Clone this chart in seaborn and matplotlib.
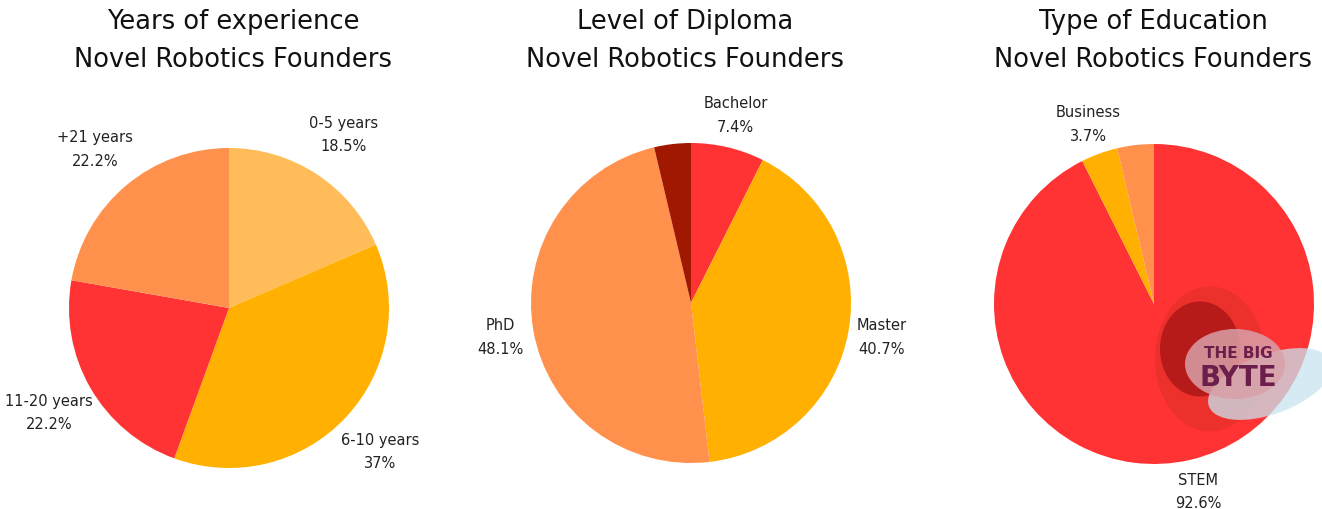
import matplotlib
matplotlib.use("Agg")
import matplotlib.pyplot as plt
import seaborn as sns
from matplotlib.patches import Ellipse

sns.set_theme(style="white")
plt.rcParams['font.family'] = ['DejaVu Sans']

# data: share of 27 founders
exp_labels = ["0-5 years", "6-10 years", "11-20 years", "+21 years"]
exp_values = [18.5, 37.0, 22.2, 22.2]
exp_colors = ["#FFBC58", "#FFB000", "#FF3333", "#FF914D"]

dipl_labels = ["Bachelor", "Master", "PhD", ""]
dipl_values = [7.4, 40.7, 48.1, 3.7]
dipl_colors = ["#FF3333", "#FFB000", "#FF914D", "#A01800"]

edu_labels = ["STEM", "Business", ""]
edu_values = [92.6, 3.7, 3.7]
edu_colors = ["#FF3333", "#FFB000", "#FF914D"]

titles = ["Years of experience", "Level of Diploma", "Type of Education"]
subtitle = "Novel Robotics Founders"


def fmt(v):
    return f"{v:g}%"


fig = plt.figure(figsize=(13.22, 5.10), dpi=100)

specs = [
    (exp_labels, exp_values, exp_colors, 1.3, (69, 149), 233),
    (dipl_labels, dipl_values, dipl_colors, 1.21, (531, 144), 685),
    (edu_labels, edu_values, edu_colors, 1.2, (994, 145), 1153),
]

W, H = 1322, 510
for i, (labels, values, colors, ld, (x0, y0), tx) in enumerate(specs):
    ax = fig.add_axes([x0 / W, 1 - (y0 + 320) / H, 320 / W, 320 / H])
    text_labels = [f"{l}\n{fmt(v)}" if l else "" for l, v in zip(labels, values)]
    wedges, texts = ax.pie(values, labels=text_labels, colors=colors, startangle=90,
                           counterclock=False, labeldistance=ld,
                           wedgeprops=dict(linewidth=0),
                           textprops=dict(fontsize=10.5, color="#222222"))
    for t in texts:
        t.set_ha("center")
        t.set_va("center")
        t.set_multialignment("center")
        t.set_linespacing(1.7)
    ax.set_xlim(-1, 1)
    ax.set_ylim(-1, 1)
    ax.set_aspect("equal")
    fig.text(tx / W, 1 - 22 / H, titles[i], ha="center", va="center", fontsize=18.5, color="#111111")
    fig.text(tx / W, 1 - 60 / H, subtitle, ha="center", va="center", fontsize=18.5, color="#111111")

# watermark logo (approximation)
wax = fig.add_axes([1150 / W, 1 - 440 / H, 172 / W, 160 / H])
wax.set_xlim(0, 172)
wax.set_ylim(0, 160)
wax.axis("off")
wax.add_patch(Ellipse((60, 80), 110, 145, color="#E8302A", alpha=0.8, lw=0))
wax.add_patch(Ellipse((50, 90), 80, 95, color="#B01818", alpha=0.9, lw=0))
wax.add_patch(Ellipse((120, 55), 130, 60, angle=20, color="#C9E4F0", alpha=0.75, lw=0))
wax.add_patch(Ellipse((85, 75), 100, 70, color="#D9A0A8", alpha=0.85, lw=0))
wax.text(88, 86, "THE BIG", ha="center", va="center", fontsize=11, fontweight="bold", color="#6B1E4B")
wax.text(88, 62, "BYTE", ha="center", va="center", fontsize=20, fontweight="bold", color="#6B1E4B")

fig.savefig("out.png", dpi=100, facecolor="white")
